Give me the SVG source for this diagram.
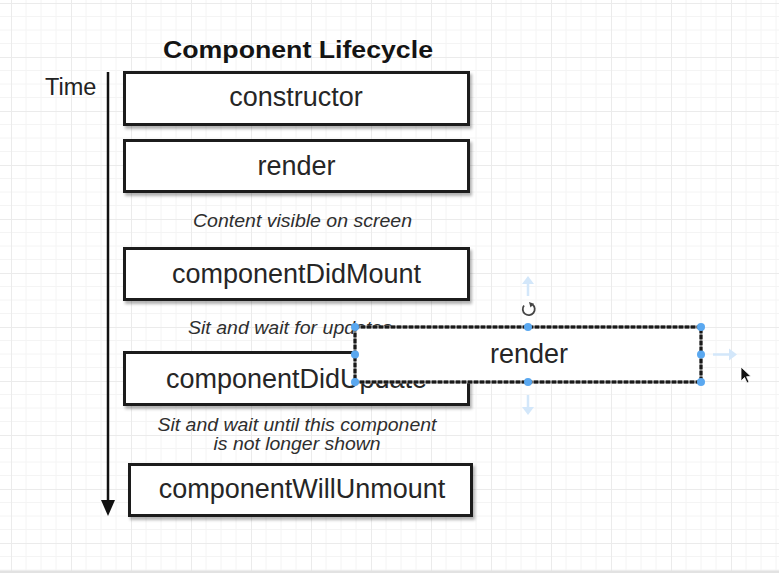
<svg xmlns="http://www.w3.org/2000/svg" width="779" height="573" viewBox="0 0 779 573">
  <style>
    .box { fill: #ffffff; stroke: #1c1c1c; stroke-width: 3; }
    .lbl { font-family: "Liberation Sans", Arial, Helvetica, sans-serif; font-size: 27px; fill: #262626; text-anchor: middle; }
    .note { font-family: "Liberation Sans", Arial, Helvetica, sans-serif; font-size: 18px; font-style: italic; fill: #2e2e2e; }
    .title { font-family: "Liberation Sans", Arial, Helvetica, sans-serif; font-size: 23px; font-weight: bold; fill: #141414; text-anchor: middle; }
    .handle { fill: #5aa8f0; }
    .ghost { stroke: #d3e7fa; stroke-width: 2.5; fill: none; }
    .ghosthead { fill: #d3e7fa; }
  </style>
  <defs>
    <pattern id="grid" x="11" y="3" width="60" height="54" patternUnits="userSpaceOnUse">
      <path d="M15 0V54M30 0V54M45 0V54M0 13.5H60M0 27H60M0 40.5H60" stroke="#f4f4f4" stroke-width="1" fill="none"/>
      <path d="M0.5 0V54M0 0.5H60" stroke="#ebebeb" stroke-width="1" fill="none"/>
    </pattern>
    <filter id="shadow" x="-5%" y="-20%" width="110%" height="150%">
      <feDropShadow dx="2" dy="3" stdDeviation="1.5" flood-color="#000000" flood-opacity="0.3"/>
    </filter>
  </defs>

  <!-- background -->
  <rect x="0" y="0" width="779" height="573" fill="#ffffff"/>
  <rect x="0" y="0" width="779" height="571" fill="url(#grid)"/>
  <rect x="0" y="570.5" width="779" height="2.5" fill="#e2e2e2"/>

  <!-- title and axis label -->
  <text class="title" x="298" y="58" textLength="270" lengthAdjust="spacingAndGlyphs">Component Lifecycle</text>
  <text x="45" y="95" font-family="Liberation Sans, Arial, sans-serif" font-size="23.5" fill="#222222">Time</text>

  <!-- connectors -->
  <g id="connectors">
    <line x1="108" y1="72" x2="108" y2="504" stroke="#111111" stroke-width="2.5"/>
    <path d="M101 500 L115 500 L108 516 Z" fill="#111111"/>
  </g>

  <!-- nodes -->
  <g id="node-constructor">
    <rect class="box" x="124.5" y="72.5" width="344" height="52" filter="url(#shadow)"/>
    <text class="lbl" x="296" y="106">constructor</text>
  </g>
  <g id="node-render">
    <rect class="box" x="124.5" y="140.5" width="344" height="51" filter="url(#shadow)"/>
    <text class="lbl" x="296.5" y="174.5">render</text>
  </g>
  <text class="note" x="302.5" y="227" text-anchor="middle" textLength="219" lengthAdjust="spacingAndGlyphs">Content visible on screen</text>
  <g id="node-componentDidMount">
    <rect class="box" x="124.5" y="248.5" width="344" height="51" filter="url(#shadow)"/>
    <text class="lbl" x="296.5" y="283">componentDidMount</text>
  </g>
  <text class="note" x="188" y="334" textLength="204" lengthAdjust="spacingAndGlyphs">Sit and wait for updates</text>
  <g id="node-componentDidUpdate">
    <rect class="box" x="124.5" y="352.5" width="344" height="52" filter="url(#shadow)"/>
    <text class="lbl" x="296.5" y="388">componentDidUpdate</text>
  </g>
  <text class="note" x="297" y="431" text-anchor="middle" textLength="279" lengthAdjust="spacingAndGlyphs">Sit and wait until this component</text>
  <text class="note" x="297" y="450" text-anchor="middle" textLength="167" lengthAdjust="spacingAndGlyphs">is not longer shown</text>
  <g id="node-componentWillUnmount">
    <rect class="box" x="129.5" y="464.5" width="342" height="51" filter="url(#shadow)"/>
    <text class="lbl" x="302" y="498">componentWillUnmount</text>
  </g>

  <!-- selected copy of render being dragged -->
  <g id="node-render-selected">
    <path class="ghost" d="M528 296 V281"/>
    <path class="ghosthead" d="M522 284 L528 276 L534 284 Z"/>
    <path class="ghost" d="M528 395 V410"/>
    <path class="ghosthead" d="M522 407 L528 415 L534 407 Z"/>
    <path class="ghost" d="M713 354.5 H731"/>
    <path class="ghosthead" d="M729 348.5 L737 354.5 L729 360.5 Z"/>
    <rect x="355" y="327" width="346" height="55" fill="#ffffff" stroke="#7a7a7a" stroke-width="3"/>
    <rect x="355" y="327" width="346" height="55" fill="none" stroke="#1a1a1a" stroke-width="3" stroke-dasharray="4 2"/>
    <text class="lbl" x="529" y="363">render</text>
    <circle class="handle" cx="355" cy="327" r="4"/>
    <circle class="handle" cx="528" cy="327" r="4"/>
    <circle class="handle" cx="701" cy="327" r="4"/>
    <circle class="handle" cx="355" cy="354.5" r="4"/>
    <circle class="handle" cx="701" cy="354.5" r="4"/>
    <circle class="handle" cx="355" cy="382" r="4"/>
    <circle class="handle" cx="528" cy="382" r="4"/>
    <circle class="handle" cx="701" cy="382" r="4"/>
    <!-- rotate icon -->
    <path d="M532.5 304.5 A6 6 0 1 1 524 305.5" fill="none" stroke="#444444" stroke-width="1.8"/>
    <path d="M529 302 L534 303.8 L530.5 307.5 Z" fill="#444444"/>
    <!-- mouse cursor -->
    <path d="M741 367 L741 381 L744.5 377.5 L747 383 L749 382 L746.6 376.7 L751 376.5 Z" fill="#111111" stroke="#ffffff" stroke-width="0.8"/>
  </g>
</svg>
